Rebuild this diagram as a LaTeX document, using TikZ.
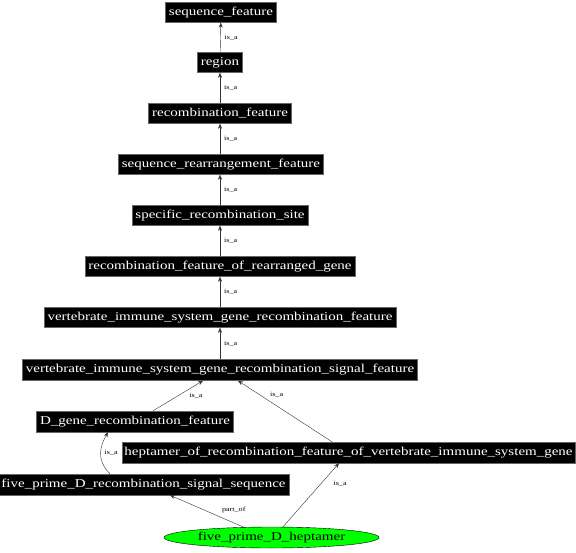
\documentclass[tikz,border=0pt]{standalone}
\usepackage{fontspec}
\setmainfont[FakeStretch=1.25]{Liberation Serif}
\usetikzlibrary{arrows.meta,shapes.geometric}
\begin{document}
\begin{tikzpicture}[x=1pt,y=1pt,
  term/.style={fill=black,draw=black!60,line width=0.4pt,text=white,inner xsep=3.5pt,inner ysep=0pt,minimum height=20pt,font=\fontsize{12}{13}\selectfont},
  lbl/.style={font=\fontsize{6.5}{7}\selectfont,inner sep=0pt},
  edge/.style={draw=black!80,line width=0.4pt,-{Stealth[length=5pt,width=4pt]}}]
\useasboundingbox (0,0) rectangle (576,-552);
\node[term] (sf) at (221,-12.5) {sequence\_feature};
\node[term] (reg) at (220,-62.5) {region};
\node[term] (rf) at (220,-113.5) {recombination\_feature};
\node[term] (srf) at (221,-164.5) {sequence\_rearrangement\_feature};
\node[term] (srs) at (220,-215.5) {specific\_recombination\_site};
\node[term] (rfrg) at (220,-266.5) {recombination\_feature\_of\_rearranged\_gene};
\node[term] (visgrf) at (220,-317.5) {vertebrate\_immune\_system\_gene\_recombination\_feature};
\node[term,minimum height=21pt] (visgrsf) at (220,-370) {vertebrate\_immune\_system\_gene\_recombination\_signal\_feature};
\node[term,minimum height=21pt] (dg) at (135,-421.5) {D\_gene\_recombination\_feature};
\node[term,minimum height=21pt,inner xsep=2.5pt] (hep) at (348.5,-452.5) {heptamer\_of\_recombination\_feature\_of\_vertebrate\_immune\_system\_gene};
\node[term,minimum height=21pt] (rss) at (143.5,-484.5) {five\_prime\_D\_recombination\_signal\_sequence};
\node[ellipse,draw=black,fill=green,line width=0.4pt,minimum width=215pt,minimum height=21pt,inner sep=0pt,font=\fontsize{12}{13}\selectfont] (fph) at (271.5,-537.5) {five\_prime\_D\_heptamer};

\draw[edge] (reg) -- node[lbl,right=4pt]{is\_a} (sf);
\draw[edge] (rf) -- node[lbl,right=4pt]{is\_a} (reg);
\draw[edge] (srf.north -| rf.south) -- node[lbl,right=4pt]{is\_a} (rf);
\draw[edge] (srs) -- node[lbl,right=4pt]{is\_a} (srf.south -| srs.north);
\draw[edge] (rfrg) -- node[lbl,right=4pt]{is\_a} (srs);
\draw[edge] (visgrf) -- node[lbl,right=4pt]{is\_a} (rfrg);
\draw[edge] (visgrsf) -- node[lbl,right=4pt]{is\_a} (visgrf);
\draw[edge] ([xshift=18pt]dg.north) -- node[lbl,pos=0.5,xshift=18pt]{is\_a} ([xshift=-17pt]visgrsf.south);
\draw[edge] ([xshift=-16.5pt]hep.north) -- node[lbl,pos=0.77,xshift=17pt]{is\_a} ([xshift=18pt]visgrsf.south);
\draw[edge] ([xshift=-33.5pt]rss.north) .. controls +(-14,14) and +(-8,-14) .. node[lbl,pos=0.5,xshift=10.5pt]{is\_a} ([xshift=-27pt]dg.south);
\draw[edge] ([xshift=-27.5pt,yshift=-0.5pt]fph.north) -- node[lbl,pos=0.53,xshift=29pt]{part\_of} ([xshift=26.5pt]rss.south);
\draw[edge] ([xshift=11.5pt]fph.north) -- node[lbl,pos=0.68,xshift=19pt]{is\_a} ([xshift=-9.5pt]hep.south);
\end{tikzpicture}
\end{document}
